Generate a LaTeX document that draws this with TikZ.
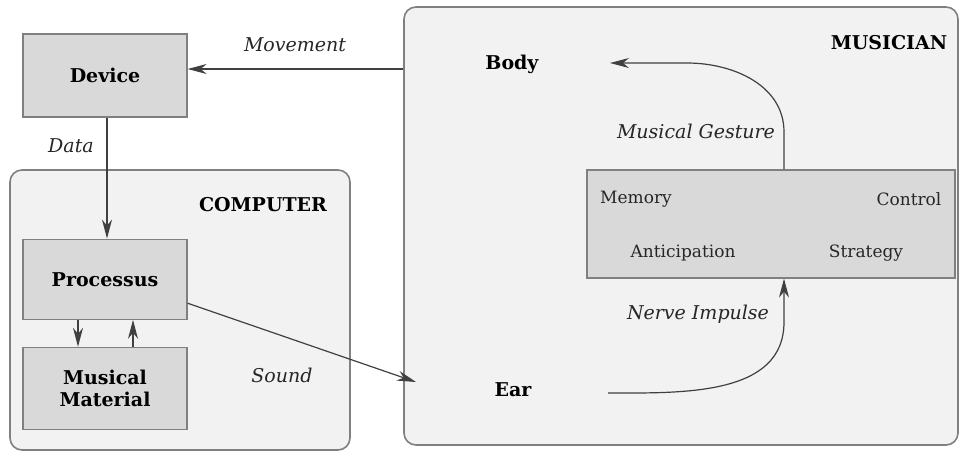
\documentclass[tikz,border=0pt]{standalone}
\usepackage{fontspec}
\setmainfont{DejaVu Serif}
\usetikzlibrary{positioning, arrows.meta}

\begin{document}
\begin{tikzpicture}[x=0.5pt, y=-0.5pt,
    box/.style={rectangle, draw=black!50, fill=black!15, minimum width=82pt,
      font=\fontsize{9.5}{11}\selectfont\bfseries, align=center},
    area/.style={rectangle, rounded corners=6pt, draw=black!50, fill=black!5, line width=0.8pt},
    lbl/.style={font=\fontsize{9.5}{12}\selectfont\itshape, text=black!85},
    part/.style={font=\fontsize{8.5}{11}\selectfont, text=black!85},
    title/.style={font=\fontsize{9.5}{12}\selectfont\bfseries},
    >={Stealth[length=9.5pt,width=5pt,inset=3pt]}, line width=0.6pt]

  \useasboundingbox (0,0) rectangle (959,452);

  \node[area, minimum width=170pt, minimum height=140pt] (computer) at (180,310) {};
  \node[area, minimum width=277pt, minimum height=219pt] (musician) at (681,226) {};

  \node[box, minimum height=41.5pt] (dev) at (105,75.5) {Device};
  \node[box, minimum height=40pt, below=60.5pt of dev] (proc) {Processus};
  \node[box, minimum height=41pt, below=13.5pt of proc] (mat) {Musical\\Material};
  \node[box, minimum width=184pt, minimum height=54pt, font=\normalfont] (mind) at (771,224) {};

  \node[title] (comptitle) at (263,205) {COMPUTER};
  \node[title] (mustitle) at (889,43) {MUSICIAN};
  \node[title] (body) at (512,64) {Body};
  \node[title] (ear) at (513,390) {Ear};

  \node[part] (memory) at (636,199) {Memory};
  \node[part] (control) at (909,199) {Control};
  \node[part] (anticip) at (683,253) {Anticipation};
  \node[part] (strategy) at (866,253) {Strategy};

  \node[lbl] (lmove) at (295,45) {Movement};
  \node[lbl] (ldata) at (71,146) {Data};
  \node[lbl] (lsound) at (282,375) {Sound};
  \node[lbl] (lgest) at (696,131) {Musical Gesture};
  \node[lbl] (lnerve) at (698,314) {Nerve Impulse};

  \coordinate (devin) at ([yshift=3.25pt]dev.east);
  \coordinate (datax) at (107,0);
  \coordinate (bodyin) at (610,63);
  \coordinate (gest) at (784,132);
  \coordinate (nerve) at (784,322);
  \coordinate (earout) at (608,393);
  \coordinate (soundin) at (416,382);

  \draw[->, black!75] (musician.west |- devin) -- (devin);
  \draw[->, black!75] (datax |- dev.south) -- (datax |- proc.north);
  \draw[->, black!75] ([xshift=-13.5pt]proc.south) -- ([xshift=-13.5pt]mat.north);
  \draw[->, black!75] ([xshift=14pt]mat.north) -- ([xshift=14pt]proc.south);
  \draw[->, black!75] ([yshift=-12pt]proc.east) -- (soundin);
  \draw[->, black!75] (gest |- mind.north) -- (gest) to[out=90, in=0] (687,63) -- (bodyin);
  \draw[->, black!75] (earout) to[out=0, in=-90] (nerve) -- (gest |- mind.south);
\end{tikzpicture}
\end{document}
